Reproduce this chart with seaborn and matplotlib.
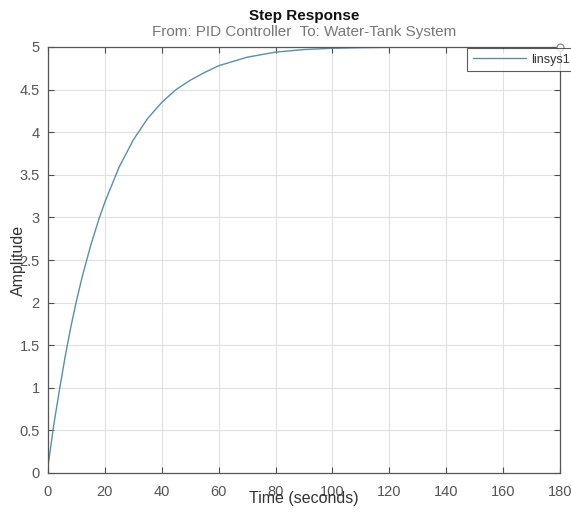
import matplotlib
matplotlib.use("Agg")
import matplotlib.pyplot as plt
import seaborn as sns
import pandas as pd

time_s = [0, 1, 2, 4, 6, 8, 10, 12, 15, 18, 20, 25, 30, 35, 40, 45, 50, 55,
          60, 70, 80, 90, 100, 110, 120, 140, 160, 180]
amplitude = [0.08, 0.32, 0.56, 0.97, 1.36, 1.71, 2.02, 2.30, 2.67, 2.99, 3.18,
             3.59, 3.91, 4.16, 4.35, 4.50, 4.61, 4.70, 4.78, 4.88, 4.94, 4.97,
             4.985, 4.992, 4.996, 4.999, 5.0, 5.0]
series_name = "linsys1"
x_ticks = [0, 20, 40, 60, 80, 100, 120, 140, 160, 180]
y_ticks = [0, 0.5, 1, 1.5, 2, 2.5, 3, 3.5, 4, 4.5, 5]
y_ticklabels = ["0", "0.5", "1", "1.5", "2", "2.5", "3", "3.5", "4", "4.5", "5"]

df = pd.DataFrame({"Time": time_s, "Amplitude": amplitude, "series": series_name})

sns.set_theme(style="white")
plt.rcParams["font.family"] = ["Liberation Sans", "DejaVu Sans"]

W, H = 571, 513
fig = plt.figure(figsize=(W / 100, H / 100), dpi=100)
ax = fig.add_axes([48 / W, 1 - 473 / H, (560 - 48) / W, (473 - 47) / H])

line_color = "#5590ad"
sns.lineplot(data=df, x="Time", y="Amplitude", hue="series",
             palette=[line_color], linewidth=1.0, ax=ax, legend=True)
ax.plot([time_s[-1]], [amplitude[-1]], marker="o", ms=5, mfc="white",
        mec="#8a8a8a", mew=0.9, ls="none", clip_on=False, zorder=5)

ax.set_xlim(0, 180)
ax.set_ylim(0, 5)
ax.set_xticks(x_ticks)
ax.set_xticklabels([str(v) for v in x_ticks])
ax.set_yticks(y_ticks)
ax.set_yticklabels(y_ticklabels)

tick_col = "#4d4d4d"
ax.tick_params(axis="both", direction="in", length=4, width=0.8, colors=tick_col,
               labelsize=10.5, top=True, right=True, bottom=True, left=True)
ax.tick_params(axis="x", pad=9)
ax.tick_params(axis="y", pad=6)
for lbl in ax.get_xticklabels() + ax.get_yticklabels():
    lbl.set_color("#555555")

for s in ax.spines.values():
    s.set_color("#555555")
    s.set_linewidth(0.9)

ax.grid(True, color="#e0e0e0", linewidth=0.8)
ax.set_axisbelow(True)

ax.set_xlabel("Time (seconds)", fontsize=11.5, color="#333333", va="center")
ax.set_ylabel("Amplitude", fontsize=11.5, color="#333333", va="center")
ax.xaxis.set_label_coords(0.5, (473 - 498) / 426)
ax.yaxis.set_label_coords((18 - 48) / 512, 0.5)

fig.text((48 + 560) / 2 / W, 1 - 16 / H, "Step Response", ha="center", va="center",
         fontsize=11, fontweight="bold", color="#111111")
fig.text((48 + 560) / 2 / W, 1 - 32 / H, "From: PID Controller  To: Water-Tank System",
         ha="center", va="center", fontsize=11, color="#777777")

leg = ax.legend(loc="upper left", bbox_to_anchor=(467 / W, 1 - 48 / H),
                bbox_transform=fig.transFigure, borderaxespad=0, fontsize=9,
                frameon=True, fancybox=False, handlelength=4.3, handletextpad=0.4,
                borderpad=0.45, title=None)
leg.get_frame().set_edgecolor("#333333")
leg.get_frame().set_linewidth(0.8)
for t in leg.get_texts():
    t.set_color("#333333")

fig.savefig("out.png", dpi=100)
